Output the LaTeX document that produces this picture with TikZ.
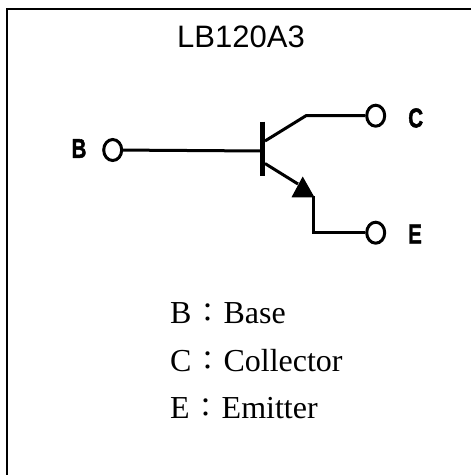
\documentclass[tikz,border=0pt]{standalone}
\usepackage{fontspec}
\setmainfont{Liberation Serif}
\newfontfamily\headfont{Liberation Sans}
\newfontfamily\pinfont[FakeBold=2]{Liberation Sans Bold}
\newfontfamily\cjkfont{Noto Sans CJK TC}
\newcommand{\legcolon}{\makebox[32pt][c]{\raisebox{1pt}{\cjkfont\fontsize{27}{27}\selectfont ：}}}
\newcommand{\pintext}[1]{\scalebox{.76}[1]{#1}}
\usetikzlibrary{shapes.geometric}
\tikzset{
  frameline/.style={line width=2.2pt,black},
  wire/.style={line width=3pt,black,line join=miter},
  pin/.style={ellipse,draw,line width=3pt,fill=white,inner sep=0pt,minimum width=18pt,minimum height=21pt},
  pinlabel/.style={font=\pinfont\fontsize{27}{27}\selectfont,inner sep=0pt,anchor=center},
  legend/.style={font=\fontsize{32}{32}\selectfont,inner sep=0pt,anchor=base west},
  title/.style={font=\headfont\fontsize{31}{31}\selectfont,inner sep=0pt,anchor=base}
}
\begin{document}
\begin{tikzpicture}[x=1pt,y=-1pt]
\useasboundingbox (0,0) rectangle (471,475);
\fill[white] (0,0) rectangle (471,475);
\coordinate (frameTR) at (471,9);
\coordinate (frameTL) at (7,9);
\coordinate (frameBL) at (7,475);
\draw[frameline] (frameTR) -- (frameTL) -- (frameBL);
\node[title] (head) at (241,47.5) {LB120A3};
% transistor
\coordinate (barT) at (262.7,121.5);
\coordinate (barB) at (262.7,176);
\coordinate (barM) at (262.7,151);
\node[pin] (pb) at (112.7,150) {};
\node[pin] (pc) at (375.7,115.7) {};
\node[pin] (pe) at (375.7,232.7) {};
\draw[line width=5.4pt] (barT) -- (barB);
\draw[wire] (pb) -- (barM);
\coordinate (ck) at (306,115.7);
\coordinate (cs) at (265,141);
\draw[wire] (cs) -- (ck) -- (pc);
\coordinate (es) at (265,163.5);
\coordinate (tip) at (302.7,176.5);
\coordinate (el) at (291.5,197.3);
\coordinate (er) at (314.5,197.3);
\coordinate (ed) at (313.3,232.7);
\coordinate (et) at (313.3,196);
\coordinate (em) at (298,184);
\draw[wire] (es) -- (em);
\fill[black] (tip) -- (er) -- (el) -- cycle;
\draw[wire] (et) -- (ed) -- (pe);
\node[pinlabel] (lb) at (79,148.5) {\pintext{B}};
\node[pinlabel] (lc) at (415.7,118) {\pintext{C}};
\node[pinlabel] (le) at (415,234) {\pintext{E}};
% legend
\node[legend] (l1) at (170,323.3) {B\legcolon Base};
\node[legend] (l2) at (170,371) {C\legcolon Collector};
\node[legend] (l3) at (170,418.3) {E\legcolon Emitter};
\end{tikzpicture}
\end{document}
